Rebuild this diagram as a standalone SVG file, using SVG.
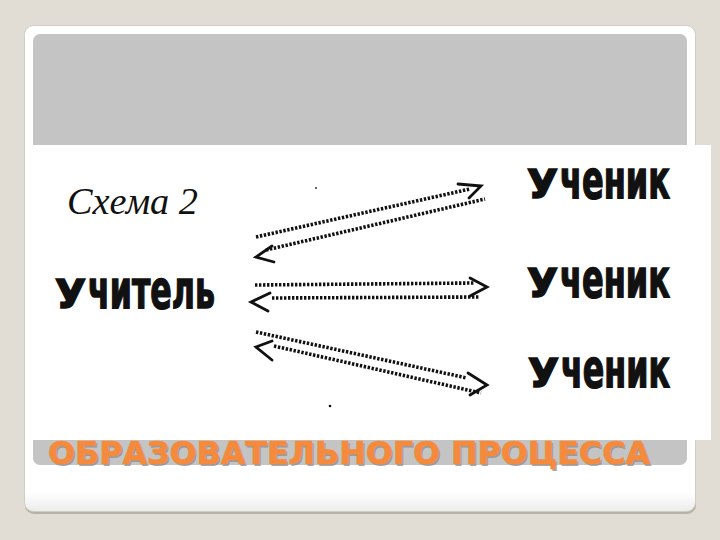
<svg xmlns="http://www.w3.org/2000/svg" width="720" height="540" viewBox="0 0 720 540">
<defs>
<style>
.dot{stroke:#111;stroke-width:3.6;stroke-dasharray:2.4 1.6;fill:none}
.head{stroke:#111;stroke-width:2.8;fill:none;stroke-linecap:round;stroke-linejoin:miter}
.lbl{font-family:"DejaVu Sans","Liberation Sans",sans-serif;font-weight:bold;fill:#111;stroke:#111;stroke-width:1}
.title{font-family:"DejaVu Sans","Liberation Sans",sans-serif;font-weight:bold;font-size:32px}
</style>
<linearGradient id="cardg" x1="0" y1="0" x2="0" y2="1">
<stop offset="0" stop-color="#ffffff"/>
<stop offset="0.96" stop-color="#ffffff"/>
<stop offset="1" stop-color="#ececec"/>
</linearGradient>
</defs>
<rect width="720" height="540" fill="#e2ddd4"/>
<g id="card">
<rect x="25" y="27" width="671" height="487" rx="9" fill="#b7b2a8"/>
<rect x="24.5" y="25.5" width="671" height="486" rx="9" fill="url(#cardg)" stroke="#d2cdc4"/>
<rect x="33" y="34" width="654" height="431" rx="7" fill="#c4c4c4"/>
<rect x="30" y="145" width="681" height="295" fill="#ffffff"/>
</g>
<g id="title">
<text class="title" x="49.5" y="465.5" textLength="602" lengthAdjust="spacingAndGlyphs" fill="#8c8c8c" opacity="0.75">ОБРАЗОВАТЕЛЬНОГО ПРОЦЕССА</text>
<text class="title" x="48" y="464" textLength="602" lengthAdjust="spacingAndGlyphs" fill="#f58a3c" stroke="#f58a3c" stroke-width="0.6">ОБРАЗОВАТЕЛЬНОГО ПРОЦЕССА</text>
</g>
<g id="caption">
<text x="67" y="214" font-family="'Liberation Serif',serif" font-style="italic" font-size="38" textLength="131" lengthAdjust="spacingAndGlyphs" fill="#111">Схема 2</text>
</g>
<g id="teacher">
<text class="lbl" transform="translate(0,308) scale(1,1.65)"><tspan x="55" y="0" font-size="24" textLength="31" lengthAdjust="spacingAndGlyphs">У</tspan><tspan x="88" y="0" font-size="32" textLength="127" lengthAdjust="spacingAndGlyphs">читель</tspan></text>
</g>
<g id="student1">
<text class="lbl" transform="translate(0,198) scale(1,1.65)"><tspan x="527" y="0" font-size="24" textLength="31" lengthAdjust="spacingAndGlyphs">У</tspan><tspan x="560" y="0" font-size="32" textLength="110" lengthAdjust="spacingAndGlyphs">ченик</tspan></text>
</g>
<g id="student2">
<text class="lbl" transform="translate(0,297) scale(1,1.65)"><tspan x="527" y="0" font-size="24" textLength="31" lengthAdjust="spacingAndGlyphs">У</tspan><tspan x="560" y="0" font-size="32" textLength="110" lengthAdjust="spacingAndGlyphs">ченик</tspan></text>
</g>
<g id="student3">
<text class="lbl" transform="translate(0,387) scale(1,1.65)"><tspan x="528" y="0" font-size="24" textLength="31" lengthAdjust="spacingAndGlyphs">У</tspan><tspan x="561" y="0" font-size="32" textLength="109" lengthAdjust="spacingAndGlyphs">ченик</tspan></text>
</g>
<g id="connectors">
<line class="dot" x1="256" y1="237" x2="470" y2="189"/>
<line class="dot" x1="266" y1="250" x2="485" y2="199"/>
<polyline class="head" points="458,184 481,186 469,198"/>
<polyline class="head" points="272,246 256,257 274,262"/>
<line class="dot" x1="255" y1="285" x2="474" y2="283"/>
<line class="dot" x1="272" y1="298" x2="480" y2="297"/>
<polyline class="head" points="470,278 487,287 470,296"/>
<polyline class="head" points="270,293 251,302 268,311"/>
<line class="dot" x1="256" y1="332" x2="467" y2="378"/>
<line class="dot" x1="274" y1="346" x2="481" y2="393"/>
<polyline class="head" points="272,341 256,347 272,360"/>
<polyline class="head" points="468,373 487,385 470,395"/>
<circle cx="330" cy="406" r="1.3" fill="#111"/>
<circle cx="316" cy="188" r="1" fill="#333"/>
</g>
</svg>
